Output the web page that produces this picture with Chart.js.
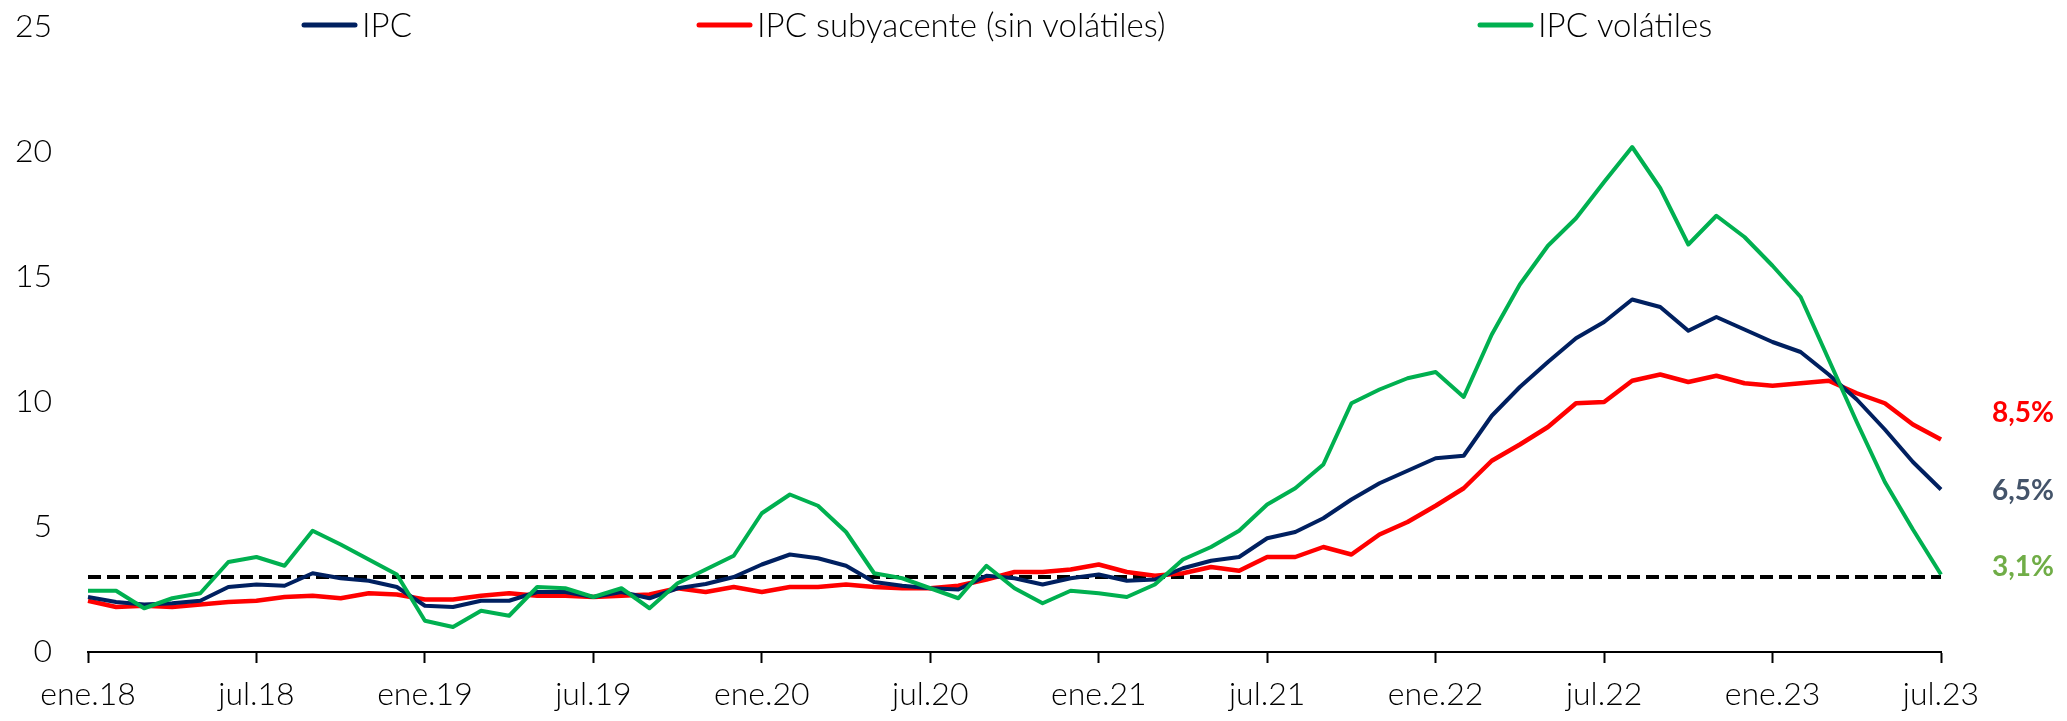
<!DOCTYPE html>
<html>
<head>
<meta charset="utf-8">
<script src="https://cdn.jsdelivr.net/npm/chart.js@4.4.0/dist/chart.umd.min.js"></script>
<style>
html,body{margin:0;padding:0;background:#fff;}
#wrap{width:2067px;height:721px;}
</style>
</head>
<body>
<div id="wrap"><canvas id="c" width="2067" height="721"></canvas></div>
<script>
const categorias = [
 'ene.18','feb.18','mar.18','abr.18','may.18','jun.18','jul.18','ago.18','sep.18','oct.18','nov.18','dic.18',
 'ene.19','feb.19','mar.19','abr.19','may.19','jun.19','jul.19','ago.19','sep.19','oct.19','nov.19','dic.19',
 'ene.20','feb.20','mar.20','abr.20','may.20','jun.20','jul.20','ago.20','sep.20','oct.20','nov.20','dic.20',
 'ene.21','feb.21','mar.21','abr.21','may.21','jun.21','jul.21','ago.21','sep.21','oct.21','nov.21','dic.21',
 'ene.22','feb.22','mar.22','abr.22','may.22','jun.22','jul.22','ago.22','sep.22','oct.22','nov.22','dic.22',
 'ene.23','feb.23','mar.23','abr.23','may.23','jun.23','jul.23'
];
const ipc = [
 2.2,2.0,1.9,1.95,2.05,2.6,2.7,2.65,3.15,2.95,2.85,2.6,
 1.85,1.8,2.05,2.05,2.4,2.4,2.2,2.4,2.15,2.55,2.72,3.0,
 3.5,3.9,3.75,3.45,2.8,2.65,2.55,2.5,3.05,2.95,2.7,2.95,
 3.1,2.85,2.9,3.35,3.65,3.8,4.55,4.8,5.35,6.1,6.75,7.25,
 7.75,7.85,9.45,10.6,11.6,12.55,13.2,14.1,13.8,12.85,13.4,12.9,
 12.4,12.0,11.1,10.1,8.9,7.6,6.5
];
const ipcSubyacente = [
 2.05,1.8,1.85,1.8,1.9,2.0,2.05,2.2,2.25,2.15,2.35,2.3,
 2.1,2.1,2.25,2.35,2.25,2.25,2.2,2.25,2.3,2.55,2.4,2.6,
 2.4,2.6,2.6,2.7,2.6,2.55,2.55,2.65,2.9,3.2,3.2,3.3,
 3.5,3.2,3.05,3.15,3.4,3.25,3.8,3.8,4.2,3.9,4.7,5.2,
 5.85,6.55,7.65,8.3,9.0,9.95,10.0,10.85,11.1,10.8,11.05,10.75,
 10.65,10.75,10.85,10.35,9.95,9.1,8.5
];
const ipcVolatiles = [
 2.45,2.45,1.75,2.15,2.35,3.6,3.8,3.45,4.85,4.3,3.7,3.1,
 1.25,1.0,1.65,1.45,2.6,2.55,2.2,2.55,1.75,2.75,3.3,3.85,
 5.55,6.3,5.85,4.8,3.15,2.95,2.55,2.15,3.45,2.55,1.95,2.45,
 2.35,2.2,2.7,3.7,4.2,4.85,5.9,6.55,7.5,9.95,10.5,10.95,
 11.2,10.2,12.7,14.7,16.25,17.35,18.8,20.2,18.55,16.3,17.45,16.6,
 15.45,14.2,11.7,9.2,6.8,4.9,3.1
];
const metaInflacion = 3;
const ticksY = [0,5,10,15,20,25];
const nombresSeries = ['IPC','IPC subyacente (sin volátiles)','IPC volátiles'];
const etiquetasFinales = ['6,5%','8,5%','3,1%'];

const FONT = "Lato, 'Open Sans', sans-serif";

const legendX = [302, 697, 1478];
const endLabelColors = ['#44546A', '#FF0000', '#70AD47'];
const endLabelOffset = [0.06, -1.06, -0.3];

const customPlugin = {
  id: 'custom',
  afterDraw(chart) {
    const ctx = chart.ctx;
    const ds = chart.data.datasets;
    ctx.save();
    for (let i = 0; i < 3; i++) {
      const x = legendX[i];
      ctx.strokeStyle = ds[i].borderColor;
      ctx.lineWidth = 5;
      ctx.lineCap = 'round';
      ctx.beginPath();
      ctx.moveTo(x + 2, 25);
      ctx.lineTo(x + 53, 25);
      ctx.stroke();
      ctx.fillStyle = '#000';
      ctx.font = "300 33px " + FONT;
      ctx.textBaseline = 'middle';
      ctx.textAlign = 'left';
      ctx.fillText(ds[i].label, x + 60, 26);
    }
    const ys = chart.scales.y;
    for (let i = 0; i < 3; i++) {
      const d = ds[i].data;
      const v = d[d.length - 1];
      const y = ys.getPixelForValue(v - endLabelOffset[i]);
      ctx.fillStyle = endLabelColors[i];
      ctx.font = "bold 28px " + FONT;
      ctx.textBaseline = 'middle';
      ctx.textAlign = 'left';
      ctx.fillText(etiquetasFinales[i], chart.chartArea.right + 51, y);
    }
    ctx.restore();
  }
};

new Chart(document.getElementById('c'), {
  type: 'line',
  data: {
    labels: categorias,
    datasets: [
      { label: nombresSeries[0], data: ipc, borderColor: '#002060', borderWidth: 4, order: 2 },
      { label: nombresSeries[1], data: ipcSubyacente, borderColor: '#FF0000', borderWidth: 4.5, order: 3 },
      { label: nombresSeries[2], data: ipcVolatiles, borderColor: '#00B050', borderWidth: 4, order: 1 },
      { label: 'Meta', data: categorias.map(() => metaInflacion), borderColor: '#000000', borderWidth: 4, borderDash: [13, 6], order: 4 }
    ].map(d => Object.assign({ pointRadius: 0, tension: 0, fill: false, borderJoinStyle: 'round', borderCapStyle: 'butt' }, d))
  },
  options: {
    responsive: false,
    animation: false,
    events: [],
    layout: { padding: { left: 0, right: 126, top: 27, bottom: 0 } },
    plugins: { legend: { display: false }, tooltip: { enabled: false } },
    scales: {
      x: {
        type: 'category',
        offset: false,
        afterFit(s) { s.height = 69; },
        border: { display: true, color: '#000', width: 2 },
        grid: {
          display: true, drawOnChartArea: false, drawTicks: true, tickLength: 11, tickWidth: 2,
          tickColor: (c) => (c.index % 6 === 0 ? '#000' : 'rgba(0,0,0,0)')
        },
        ticks: {
          autoSkip: false, maxRotation: 0, minRotation: 0, padding: 12,
          color: '#000', font: { family: FONT, size: 32, weight: '300' },
          callback: function (v, i) { return i % 6 === 0 ? categorias[i] : ''; }
        }
      },
      y: {
        min: 0, max: 25,
        afterFit(s) { s.width = 88; s.paddingTop = 0; s.paddingBottom = 0; },
        afterBuildTicks(s) { s.ticks = ticksY.map(v => ({ value: v })); },
        border: { display: false },
        grid: { display: false, drawTicks: false },
        ticks: { padding: 36, color: '#000', font: { family: FONT, size: 32, weight: '300' } }
      }
    }
  },
  plugins: [customPlugin]
});
</script>
</body>
</html>
